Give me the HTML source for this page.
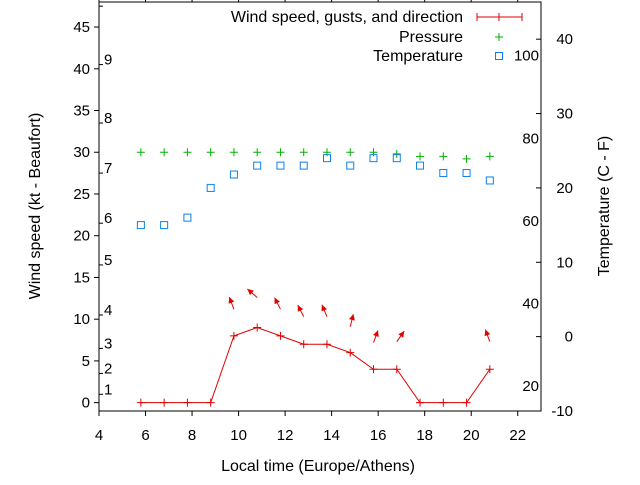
<!DOCTYPE html>
<html><head><meta charset="utf-8"><style>
body{margin:0;background:#fff}
svg{font-family:"Liberation Sans",sans-serif;font-size:15px}
.big{font-size:16px}
</style></head><body>
<svg id="c" width="640" height="480" viewBox="0 0 640 480"></svg>
<script>
const times=[5.8,6.8,7.8,8.8,9.8,10.8,11.8,12.8,13.8,14.8,15.8,16.8,17.8,18.8,19.8,20.8];
const wind=[0,0,0,0,8,9,8,7,7,6,4,4,0,0,0,4];
const pressure=[30,30,30,30,30,30,30,30,30,30,30,29.8,29.5,29.5,29.2,29.5];
const tempC=[15,15,16,20,21.8,23,23,23,24,23,24,24,23,22,22,21];
const arrowTimes=[9.8,10.8,11.8,12.8,13.8,14.8,15.8,16.8,20.8];
const gusts=[11.2,12.6,11.2,10.3,10.3,9.1,7.2,7.3,7.3];
const dirs=[-21,-49,-27,-27,-23,14,20,35,-20];
const xTicks=[4,6,8,10,12,14,16,18,20,22];
const yTicks=[0,5,10,15,20,25,30,35,40,45];
const cTicks=[-10,0,10,20,30,40];
const fTicks=[20,40,60,80,100];
const bftLabels=[1,2,3,4,5,6,7,8,9];
const bftBounds=[1,3.5,6.5,10.5,16.5,21.5,27.5,33.5,40.5,47.5];

const L=99,R=541,T=2,B=411;
const X=t=>L+(t-4)*(R-L)/19;
const Y=v=>B-(v+1)*(B-T)/49;
const YC=c=>B-(c+10)*(B-T)/55;
const svg=document.getElementById('c');
const NS='http://www.w3.org/2000/svg';
function mk(tag,attrs,parent){const e=document.createElementNS(NS,tag);for(const k in attrs)e.setAttribute(k,attrs[k]);(parent||svg).appendChild(e);return e;}
function txt(s,x,y,anchor,name,extra){const e=mk('text',Object.assign({x:x,y:y,'text-anchor':anchor||'middle'},extra||{}));e.textContent=s;return e;}

const frame=mk('rect',{x:L,y:T,width:R-L,height:B-T,fill:'none',stroke:'#000','stroke-width':1});



xTicks.forEach(t=>{
  const g=mk('line',{x1:X(t),x2:X(t),y1:B,y2:B+5,stroke:'#000'});
  
  
  const g2=mk('line',{x1:X(t),x2:X(t),y1:T,y2:T-3,stroke:'#000'});
  
  
  txt(String(t),X(t),440,'middle','x-tick-label');
});
yTicks.forEach(v=>{
  const g=mk('line',{x1:L-5,x2:L,y1:Y(v),y2:Y(v),stroke:'#000'});
  
  
  txt(String(v),90,Y(v)+5,'end','y-tick-label');
});
bftBounds.forEach(v=>{
  const g=mk('line',{x1:L,x2:L+4,y1:Y(v),y2:Y(v),stroke:'#000'});
  
  
});
bftLabels.forEach((b,i)=>{
  txt(String(b),104,Y(bftBounds[i]+0.6)+5,'start','beaufort-label');
});
cTicks.forEach(c=>{
  const g=mk('line',{x1:R-5,x2:R,y1:YC(c),y2:YC(c),stroke:'#000'});
  
  
  txt(String(c),573,YC(c)+5,'end','celsius-label');
});
fTicks.forEach(f=>{
  txt(String(f),539,YC((f-32)/1.8)+5,'end','fahrenheit-label');
});

txt('Local time (Europe/Athens)',318,471,'middle','x-axis-title',{class:'big'});
txt('Wind speed (kt - Beaufort)',40,206,'middle','y-axis-title',{class:'big',transform:'rotate(-90 40 206)'});
txt('Temperature (C - F)',609,206,'middle','y2-axis-title',{class:'big',transform:'rotate(-90 609 206)'});

const wl=mk('polyline',{points:times.map((t,i)=>X(t)+','+Y(wind[i])).join(' '),fill:'none',stroke:'#e00000','stroke-width':1});


times.forEach((t,i)=>{
  const p=mk('path',{d:`M${X(t)-4},${Y(wind[i])}h8M${X(t)},${Y(wind[i])-4}v8`,stroke:'#e00000','stroke-width':1});
  
  
});
arrowTimes.forEach((t,i)=>{
  const x0=X(t),y0=Y(gusts[i]),a=dirs[i]*Math.PI/180,len=13;
  const x1=x0+len*Math.sin(a),y1=y0-len*Math.cos(a);
  const g=mk('g',{});
  
  
  mk('line',{x1:x0,y1:y0,x2:x1,y2:y1,stroke:'#e00000','stroke-width':1},g);
  const ux=Math.sin(a),uy=-Math.cos(a),px=-uy,py=ux;
  const bx=x1-ux*6,by=y1-uy*6;
  mk('polygon',{points:`${x1},${y1} ${bx+px*3},${by+py*3} ${bx-px*3},${by-py*3}`,fill:'#e00000'},g);
});
times.forEach((t,i)=>{
  const p=mk('path',{d:`M${X(t)-4},${Y(pressure[i])}h8M${X(t)},${Y(pressure[i])-4}v8`,stroke:'#00b000','stroke-width':1});
  
  
});
times.forEach((t,i)=>{
  const r=mk('rect',{x:X(t)-3.5,y:YC(tempC[i])-3.5,width:7,height:7,fill:'none',stroke:'#1080e8','stroke-width':1});
  
  
});
txt('Wind speed, gusts, and direction',463,22,'end','legend-wind-label',{class:'big'});
const lw=mk('path',{d:'M477,17h45M477,13v8M499,13v8M522,13v8',stroke:'#e00000',fill:'none'});


txt('Pressure',463,42,'end','legend-pressure-label',{class:'big'});
const lp=mk('path',{d:'M495,37h8M499,33v8',stroke:'#00b000'});


txt('Temperature',463,61,'end','legend-temperature-label',{class:'big'});
const lt=mk('rect',{x:495.5,y:52.5,width:7,height:7,fill:'none',stroke:'#1080e8'});


</script>
</body></html>
